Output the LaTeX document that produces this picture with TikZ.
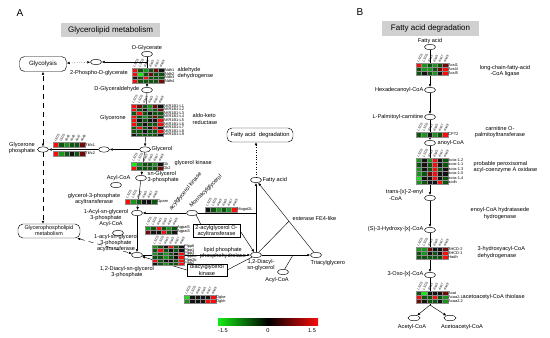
\documentclass[tikz,border=0pt]{standalone}
\usepackage{fontspec}
\setmainfont{Liberation Sans}
\usetikzlibrary{arrows.meta,shapes.geometric,calc}
\definecolor{hR}{RGB}{250,12,12}
\definecolor{ho}{RGB}{190,12,12}
\definecolor{hr}{RGB}{115,10,10}
\definecolor{hk}{RGB}{18,18,18}
\definecolor{hg}{RGB}{12,85,12}
\definecolor{hm}{RGB}{25,150,25}
\definecolor{hG}{RGB}{20,235,20}
\definecolor{titlegray}{RGB}{208,208,208}
\newcommand\hlabs{LSD3,LSD5,dsd3,dsd5,dsd7,dsd9}
\newcommand\hcells[6]{%
  \foreach \hrow [count=\hi] in {#4}{%
    \foreach \hc [count=\hj] in \hrow {%
      \filldraw[hcell, fill=\hc] ({#1+(\hj-1)*5.3},{#2+(\hi-1)*#3}) rectangle ++(5.3,#3);
    }%
  }%
  \foreach \hl [count=\hi] in {#5}{%
    \node[genel, anchor=west] (#6-l\hi) at ({#1+31.9},{#2+(\hi-0.5)*#3}) {\hl};
  }%
}
\newcommand\hhead[3]{%
  \foreach \hh [count=\hj] in \hlabs {%
    \node[hdr, rotate=60, anchor=west] (#3-h\hj) at ({#1+(\hj-0.5)*5.3-0.8},{#2-1.2}) {\hh};
  }%
}
\tikzset{
  lbl/.style={font=\fontsize{5.6}{6.1}\selectfont, align=center, inner sep=0.5pt},
  genel/.style={font=\fontsize{3.9}{4}\selectfont, inner sep=0.3pt},
  hdr/.style={font=\fontsize{3.2}{3.6}\selectfont, inner sep=0.1pt},
  hcell/.style={draw=black!45, line width=0.15pt},
  cpd/.style={ellipse, draw, line width=0.45pt, minimum width=11pt, minimum height=5.5pt, inner sep=0pt},
  ttl/.style={fill=titlegray, font=\fontsize{8}{9}\selectfont, inner sep=0pt},
  mapbox/.style={draw, rounded corners=5pt, line width=0.45pt, font=\fontsize{5.8}{6.3}\selectfont, align=center, inner sep=0pt},
  enzbox/.style={draw, line width=0.4pt, font=\fontsize{5.6}{6.1}\selectfont, align=center, inner sep=0.8pt},
  arr/.style={line width=0.45pt, -{Latex[length=3pt,width=2.6pt]}},
  darr/.style={line width=0.45pt, {Latex[length=3pt,width=2.6pt]}-{Latex[length=3pt,width=2.6pt]}},
  plain/.style={line width=0.45pt},
  panel/.style={font=\fontsize{10}{12}\selectfont},
}
\begin{document}
\begin{tikzpicture}[x=1pt,y=-1pt]
\useasboundingbox (0,0) rectangle (550,338);
\fill[white] (0,0) rectangle (550,338);

% ================= Panel A =================
\node[panel] (labA) at (20,13) {A};
\node[ttl, minimum width=99pt, minimum height=14pt] (ttlA) at (110.5,30) {Glycerolipid metabolism};
\node[mapbox, minimum width=47pt, minimum height=15pt, font=\fontsize{6.2}{7}\selectfont] (glycolysis) at (43,64) {Glycolysis};
\node[cpd] (pgly) at (96,62) {};
\node[lbl] (pglyT) at (99,73) {2-Phospho-D-glycerate};
\node[lbl] (dglyT) at (147,48) {D-Glycerate};
\node[cpd] (dgly) at (147,54) {};
\node[cpd] (dgald) at (147,90) {};
\node[lbl, anchor=east] (dgaldT) at (140,89) {D-Glyceraldehyde};
\node[lbl] (glyconeT) at (113,118) {Glycerone};
\node[cpd] (glycerol) at (145,149.5) {};
\node[lbl, anchor=west] (glycerolT) at (151,149) {Glycerol};
\node[cpd] (glycone) at (104,149.5) {};
\node[cpd] (gnp) at (43,149.5) {};
\node[lbl] (gnpT) at (22,148) {Glycerone\\phosphate};
\node[cpd] (sng3p) at (141,178) {};
\node[lbl, anchor=west, align=left] (sng3pT) at (147,177) {sn-Glycerol\\3-phosphate};
\node[lbl, anchor=east] (acoa1T) at (131,178) {Acyl-CoA};
\node[cpd] (acoa1) at (116,185) {};
\node[lbl] (gpatT) at (94,199) {glycerol-3-phosphate\\acyltransferase};
\node[cpd] (a1g3p) at (137,213) {};
\node[lbl] (a1g3pT) at (106,215) {1-Acyl-sn-glycerol\\3-phosphate};
\node[lbl] (acoa2T) at (111,224.5) {Acyl-CoA};
\node[cpd] (acoa2) at (118,233) {};
\node[lbl] (agpatT) at (116,243) {1-acyl-sn-glycerol\\3-phosphate\\acyltransferase};
\node[mapbox, minimum width=62pt, minimum height=14pt, font=\fontsize{5.4}{5.9}\selectfont] (gpl) at (49,231) {Glycerophospholipid\\metabolism};
\node[cpd] (dag3p) at (137,255) {};
\node[lbl] (dag3pT) at (127,272) {1,2-Diacyl-sn-glycerol\\3-phosphate};
\node[cpd] (mag) at (192,213) {};
\node[lbl, rotate=45, anchor=west] (magT) at (190,207) {Monoacylglycerol};
\node[lbl, rotate=50, anchor=west] (agkT) at (170,210) {acylglycerol kinase};
\node[enzbox, minimum width=47pt, minimum height=12pt] (agoat) at (216.5,231) {2-acylglycerol O-\\acyltransferase};
\node[lbl] (lppT) at (223,253) {lipid phosphate\\phosphohydrolase};
\node[enzbox, minimum width=40pt, minimum height=11pt] (dgkbox) at (207,270) {diacylglycerol\\kinase};
\node[cpd] (dag) at (256,255) {};
\node[lbl] (dagT) at (261,265) {1,2-Diacyl-\\sn-glycerol};
\node[cpd] (tag) at (316,255) {};
\node[lbl, anchor=west] (tagT) at (310,263) {Triacylglycero};
\node[cpd] (acoa3) at (283,272) {};
\node[lbl] (acoa3T) at (277,280.5) {Acyl-CoA};
\node[cpd] (fa) at (256,180) {};
\node[lbl, anchor=west] (faT) at (262,180) {Fatty acid};
\node[mapbox, minimum width=66pt, minimum height=14pt] (fad) at (260,135) {Fatty acid\ \ degradation};
\node[lbl, anchor=west] (estT) at (292,218) {esterase FE4-like};
\node[lbl, anchor=north west, align=left] (aldhT) at (177,67) {aldehyde\\dehydrogense};
\node[lbl, anchor=west, align=left] (akrT) at (192,119) {aldo-keto\\reductase};
\node[lbl, anchor=west] (gkT) at (174,163) {glycerol kinase};
\coordinate (apex) at ($(tag)!0.45!(fa)$);
\coordinate (j1) at (293,255);

% connectors panel A
\draw[darr, dotted] (glycolysis) -- (pgly);
\draw[arr] (dgly) |- (pgly);
\draw[arr] (dgly) -- (dgald);
\draw[arr] (dgald) -- (glycerol);
\draw[arr] (glycerol) -- (sng3p);
\draw[arr] (glycerol) -- (glycone);
\draw[arr] (glycone) -- (gnp);
\draw[darr, dash pattern=on 5pt off 4pt] (gnp) -- (glycolysis);
\draw[arr, dash pattern=on 5pt off 4pt] (gnp) -- (gnp |- gpl.north);
\draw[darr, dash pattern=on 5pt off 4pt] ($(gpl.south east)+(-3,0)$) -- (dag3p);
\draw[arr] (sng3p) -- (a1g3p);
\draw[arr] (a1g3p) -- (dag3p);
\draw[arr] (mag) -- (a1g3p);
\draw[plain] (mag) -- (mag -| fa);
\draw[arr] (dag) -- (fa);
\draw[plain] (mag.south east) -- ($(agoat.north west)+(8,0)$);
\draw[arr] (agoat.east) -- (dag);
\draw[arr] (dag3p) -- (dag);
\draw[plain] (dag) -- (dgkbox.east);
\draw[arr] (dgkbox.west) -- (dag3p);
\draw[arr] (dag) -- (tag);
\draw[plain] (acoa3) -- (j1);
\draw[arr] (tag) -- (fa);
\draw[plain] (dag) -- (apex);
\draw[arr, dotted] (fa) -- (fa |- fad.south);

% heatmaps panel A
\hcells{132}{68}{3.8}{{hR,hg,hm,hg,hr,hk},{hR,hG,hg,hr,hg,hg},{hk,hg,hR,hg,hg,hg},{hR,hg,hg,hg,hg,hr}}{Aldh1,Aldh2,Aldh3,Aldh4}{ha}
\hhead{132}{68}{ha}
\hcells{131}{104}{3.6}{{hR,hr,hg,hm,hr,hk},{hR,hg,hk,hm,hg,hr},{hg,hR,hg,hk,hg,hg},{hR,hg,hm,hg,hr,hg},{hR,hk,hg,hk,hk,hR},{hR,hg,hk,hg,hg,hR},{hg,hR,hg,hk,hR,hk},{hg,hg,hk,hg,hg,hR},{hk,hg,hg,hg,hg,hk}}{AKR1B1-L1,AKR1B1-L2,AKR1B1-L3,AKR1B1-L4,AKR1B1-L5,AKR1B1-L6,AKR1B1-L7,AKR1B1-L8,AKR1B1-L9}{hb}
\hhead{131}{104}{hb}
\hcells{131}{162}{3.8}{{hG,hm,hg,hg,hm,hk},{hR,hg,hg,hg,hg,hr}}{Gk,Gk2}{hc}
\hhead{131}{162}{hc}
\hcells{53}{142.5}{5}{{hR,hg,hm,hg,hg,hr}}{Tkfc1}{hd}
\hcells{53}{151}{5}{{hR,hm,hg,hk,hg,hr}}{Tkfc2}{he}
\hhead{53}{142.5}{hd}
\hcells{125}{199}{5}{{hR,hm,hg,hk,hk,hg}}{Gpam}{hf}
\hhead{125}{199}{hf}
\hcells{145}{226}{4}{{hm,hg,hR,hg,hm,hg},{hr,hk,hk,hR,hg,hk}}{Agpat5,Agpat3}{hgg}
\hhead{145}{226}{hgg}
\hcells{152}{245}{3.4}{{hm,hg,hk,hR,hg,hk},{hg,hR,hg,hk,hg,hk},{hm,hg,hm,hg,hk,hR},{hg,hg,hm,hg,hk,hR},{hR,hg,hk,hk,hg,hR},{hk,hg,hm,hg,hg,hR}}{Plpp6,Plpp1,Plpp3,Plpp2a,Plpp2b,Plpp2}{hh}
\hhead{152}{245}{hh}
\hcells{205}{207}{5}{{hk,hg,hm,hg,hm,hR}}{Mogat2L}{hi}
\hhead{205}{207}{hi}
\hcells{184}{295}{4}{{hG,hk,hk,hk,hk,hR},{hm,hk,hk,hk,hR,hR}}{Dgke,Dgkh}{hj}
\hhead{184}{295}{hj}

% colour bar
\shade[left color=hG, right color=hR, middle color=black] (218,318) rectangle (318,325);
\node[lbl] (cbm) at (223,330.5) {-1.5};
\node[lbl] (cb0) at (268,330.5) {0};
\node[lbl] (cbp) at (312,330.5) {1.5};

% ================= Panel B =================
\node[panel] (labB) at (360,12) {B};
\node[ttl, minimum width=97pt, minimum height=15pt] (ttlB) at (430.5,28) {Fatty acid degradation};
\node[lbl] (bfaT) at (430,41) {Fatty acid};
\node[cpd] (bfa) at (430,47) {};
\node[cpd] (hexa) at (430,90) {};
\node[lbl, anchor=east] (hexaT) at (424,90) {Hexadecanoyl-CoA};
\node[cpd] (palm) at (430,117) {};
\node[lbl, anchor=east] (palmT) at (424,117) {L-Palmitoyl-carnitine};
\node[cpd] (anoyl) at (430,143) {};
\node[lbl, anchor=west] (anoylT) at (437,143) {anoyl-CoA};
\node[cpd] (trans) at (430,198) {};
\node[lbl, anchor=east, align=left] (transT) at (424,195) {trans-[x]-2-enyl\\\ \ -CoA};
\node[cpd] (hydroxy) at (430,230) {};
\node[lbl, anchor=east] (hydroxyT) at (424,229.5) {(S)-3-Hydroxy-[x]-CoA};
\node[cpd] (oxo) at (430,275) {};
\node[lbl, anchor=east] (oxoT) at (424,274) {3-Oxo-[x]-CoA};
\node[cpd, minimum width=12pt] (acetyl) at (414,318) {};
\node[lbl] (acetylT) at (412,327.5) {Acetyl-CoA};
\node[cpd, minimum width=12pt] (acac) at (450,318) {};
\node[lbl] (acacT) at (462,327.5) {Acetoacetyl-CoA};
\coordinate (split) at (430,305);

\node[lbl] (lcfaT) at (505,71) {long-chain-fatty-acid\\-CoA ligase};
\node[lbl] (cptT) at (500,132) {carnitine O-\\palmitoyltransferase};
\node[lbl, anchor=west, align=left] (acoxT) at (473,167) {probable peroxisomal\\acyl-coenzyme A oxidase};
\node[lbl] (ecT) at (500,213.5) {enoyl-CoA hydratasede\\hydrogenase};
\node[lbl, anchor=west, align=left] (hadT) at (477,252.5) {3-hydroxyacyl-CoA\\dehydrogenase};
\node[lbl, anchor=west] (thT) at (462,297) {acetoacetyl-CoA thiolase};

\draw[arr] (bfa) -- (hexa);
\draw[arr] (hexa) -- (palm);
\draw[arr] (palm) -- (anoyl);
\draw[arr] (anoyl) -- (trans);
\draw[arr] (trans) -- (hydroxy);
\draw[arr] (hydroxy) -- (oxo);
\draw[plain] (oxo) -- (split);
\draw[arr] (split) -- (acetyl);
\draw[arr] (split) -- (acac);

\hcells{416}{63}{4}{{hR,hm,hg,hm,hg,hr},{hg,hm,hm,hg,hr,hR},{hg,hk,hg,hm,hk,hR}}{Acsl1,Acsl4,Acsl5}{ba}
\hhead{416}{63}{ba}
\hcells{416}{132}{5}{{hg,hm,hk,hm,hg,hR}}{CPT2}{bb}
\hhead{416}{132}{bb}
\hcells{416}{158}{4.4}{{hm,hk,hm,hR,hk,hg},{hg,hk,hg,hR,hk,hg},{hm,hk,hg,hR,hg,hk},{hm,hg,hr,hR,hk,hk},{hG,hk,hk,hR,hk,hg},{hm,hg,hk,hk,hR,hg}}{acox-1.2,acox-1.1,acox-1.3,acox-1.5,acox-1.4,acdh}{bc}
\hhead{416}{158}{bc}
\hcells{416}{247}{4}{{hm,hm,hr,hk,hk,hr},{hg,hm,hk,hg,hk,hR},{hg,hg,hg,hg,hg,hR}}{3HCD-2,3HCD-1,Hadh}{bd}
\hhead{416}{247}{bd}
\hcells{416}{291}{4}{{hg,hG,hk,hk,hk,hr},{hR,hg,hg,hR,hg,hm},{hr,hk,hg,hg,hk,hm}}{Acat,Acaa2.1,Acaa2.2}{be}
\hhead{416}{291}{be}
\end{tikzpicture}
\end{document}
